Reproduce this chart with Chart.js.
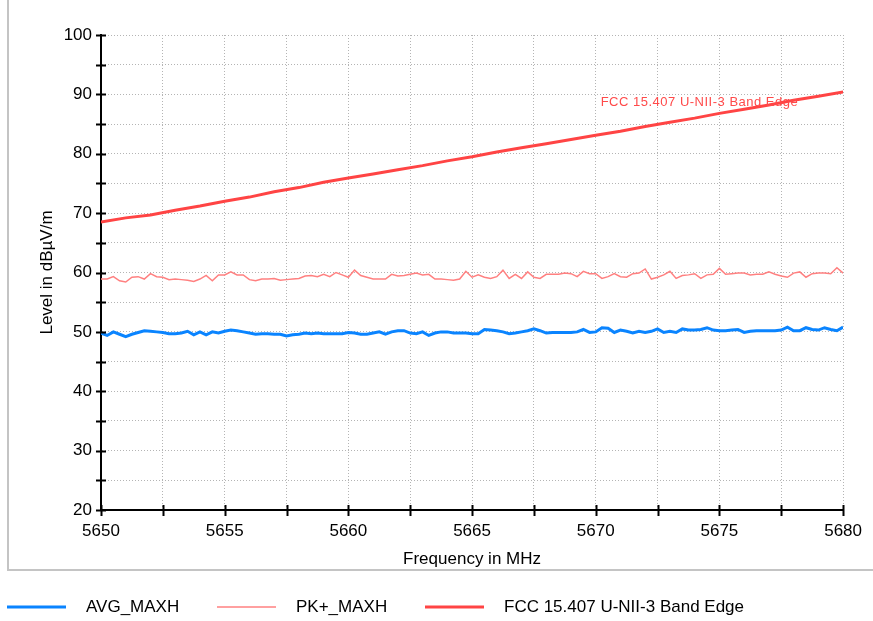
<!DOCTYPE html>
<html>
<head>
<meta charset="utf-8">
<script src="https://cdn.jsdelivr.net/npm/chart.js@4"></script>
<style>
  html, body { margin: 0; padding: 0; background: #fff; }
</style>
</head>
<body>
<canvas id="emiChart" width="873" height="621"></canvas>
<script>
// sweep grid of the two traces (MHz)
const sweepStart = 5650;
const sweepStep = 0.25;

const avgMaxh = [
  49.8, 49.4, 50.0, 49.6, 49.2, 49.6, 49.9, 50.2, 50.1, 50.0, 49.9, 49.7, 49.7, 49.8, 50.1, 49.5, 50.0, 49.5, 50.0, 49.8, 50.1, 50.3, 50.2, 50.0, 49.8,
  49.6, 49.7, 49.7, 49.6, 49.6, 49.3, 49.5, 49.6, 49.8, 49.7, 49.8, 49.7, 49.7, 49.7, 49.7, 49.9, 49.8, 49.6, 49.6, 49.8, 50.0, 49.6, 50.0, 50.2,
  50.2, 49.8, 49.7, 50.0, 49.4, 49.8, 50.0, 50.0, 49.8, 49.8, 49.8, 49.7, 49.7, 50.4, 50.3, 50.2, 50.0, 49.7, 49.8, 50.0, 50.2, 50.5, 50.2, 49.8,
  49.9, 49.9, 49.9, 49.9, 50.0, 50.4, 49.9, 50.0, 50.7, 50.6, 49.9, 50.3, 50.1, 49.8, 50.1, 49.9, 50.1, 50.5, 49.9, 50.1, 49.9, 50.5, 50.3, 50.3,
  50.4, 50.7, 50.3, 50.2, 50.2, 50.3, 50.4, 49.9, 50.1, 50.2, 50.2, 50.2, 50.2, 50.3, 50.8, 50.2, 50.2, 50.7, 50.4, 50.3, 50.7, 50.4, 50.2, 50.8
];

const pkMaxh = [
  58.9, 58.9, 59.3, 58.6, 58.4, 59.2, 59.3, 58.9, 59.8, 59.3, 59.2, 58.8, 58.9, 58.8, 58.7, 58.5, 58.9, 59.5, 58.6, 59.6, 59.6, 60.1, 59.6, 59.6, 58.8,
  58.6, 58.9, 58.9, 59.0, 58.7, 58.8, 58.9, 59.0, 59.4, 59.5, 59.3, 59.7, 59.3, 60.0, 59.6, 59.2, 60.4, 59.5, 59.2, 58.9, 58.9, 58.9, 59.7, 59.4,
  59.5, 59.7, 59.9, 59.6, 59.7, 58.9, 58.9, 58.8, 58.7, 58.9, 60.2, 59.2, 59.6, 59.2, 59.0, 59.3, 60.4, 59.0, 59.7, 59.0, 60.1, 59.2, 59.0, 59.7,
  59.7, 59.7, 59.9, 59.8, 59.3, 60.2, 59.8, 59.8, 59.0, 59.3, 59.8, 59.3, 59.2, 59.8, 59.9, 60.6, 58.9, 59.2, 59.6, 60.2, 59.0, 59.5, 59.6, 59.8,
  59.0, 59.6, 59.7, 60.7, 59.7, 59.8, 59.9, 59.9, 59.6, 59.7, 59.7, 60.1, 59.7, 59.4, 59.2, 59.9, 60.1, 59.2, 59.8, 59.9, 59.9, 59.8, 60.8, 59.9
];

const limitFreqs = [
  5650, 5651, 5652, 5653, 5654, 5655, 5656, 5657, 5658, 5659, 5660, 5661, 5662, 5663, 5664, 5665,
  5666, 5667, 5668, 5669, 5670, 5671, 5672, 5673, 5674, 5675, 5676, 5677, 5678, 5679, 5680
];
const limitLevels = [
  68.5, 69.2, 69.7, 70.5, 71.2, 72.0, 72.7, 73.6, 74.3, 75.2, 75.9, 76.6, 77.3, 78.0, 78.8, 79.5,
  80.3, 81.0, 81.7, 82.4, 83.1, 83.8, 84.6, 85.3, 86.0, 86.8, 87.5, 88.2, 89.0, 89.7, 90.4
];

const xMin = 5650, xMax = 5680, xStep = 2.5, xLabelEvery = 5;
const yMin = 20, yMax = 100, yStep = 5, yLabelEvery = 10;
const limitName = 'FCC 15.407 U-NII-3 Band Edge';

const FONT = 'Liberation Sans, Arial, sans-serif';

function toPoints(freqs, levels) {
  return levels.map((v, i) => ({ x: freqs[i], y: v }));
}
const sweepFreqs = avgMaxh.map((_, i) => sweepStart + i * sweepStep);

// grey frame round the plot, like the receiver software export
const framePlugin = {
  id: 'frame',
  beforeDraw(chart) {
    const ctx = chart.ctx;
    ctx.save();
    ctx.strokeStyle = '#c4c4c4';
    ctx.lineWidth = 2;
    ctx.beginPath();
    ctx.moveTo(8, 0);
    ctx.lineTo(8, 570);
    ctx.lineTo(873, 570);
    ctx.stroke();
    ctx.restore();
  }
};

// tick marks that cross the axis lines
const crossTicksPlugin = {
  id: 'crossTicks',
  afterDraw(chart) {
    const { ctx, chartArea, scales } = chart;
    ctx.save();
    ctx.strokeStyle = '#000';
    ctx.lineWidth = 2;
    ctx.beginPath();
    scales.y.ticks.forEach(t => {
      const py = Math.round(scales.y.getPixelForValue(t.value)) + 0.5;
      ctx.moveTo(chartArea.left - 5, py);
      ctx.lineTo(chartArea.left + 5, py);
    });
    scales.x.ticks.forEach(t => {
      const px = Math.round(scales.x.getPixelForValue(t.value)) + 0.5;
      ctx.moveTo(px, chartArea.bottom - 5);
      ctx.lineTo(px, chartArea.bottom + 6);
    });
    ctx.stroke();
    ctx.restore();
  }
};

// limit line caption
const limitLabelPlugin = {
  id: 'limitLabel',
  afterDatasetsDraw(chart) {
    const { ctx, scales } = chart;
    ctx.save();
    ctx.font = '13px ' + FONT;
    ctx.letterSpacing = '0.5px';
    ctx.fillStyle = '#ff4a4a';
    ctx.textAlign = 'left';
    ctx.textBaseline = 'middle';
    ctx.fillText(limitName, scales.x.getPixelForValue(5670.2), scales.y.getPixelForValue(88.7));
    ctx.restore();
  }
};

// legend row under the frame
const lineLegendPlugin = {
  id: 'lineLegend',
  afterDraw(chart) {
    const ctx = chart.ctx;
    const slots = [7, 217, 425];
    const y = 607;
    ctx.save();
    ctx.font = '17px ' + FONT;
    ctx.textBaseline = 'middle';
    ctx.fillStyle = '#000';
    chart.data.datasets.forEach((ds, i) => {
      const x = slots[i];
      ctx.strokeStyle = ds.borderColor;
      ctx.lineWidth = ds.borderWidth;
      ctx.beginPath();
      ctx.moveTo(x, y);
      ctx.lineTo(x + 59, y);
      ctx.stroke();
      ctx.fillText(ds.label, x + 79, y);
    });
    ctx.restore();
  }
};

const ctx = document.getElementById('emiChart').getContext('2d');
const emiChart = new Chart(ctx, {
  type: 'line',
  data: {
    datasets: [
      {
        label: 'AVG_MAXH',
        data: toPoints(sweepFreqs, avgMaxh),
        borderColor: '#0a84ff',
        borderWidth: 3,
        pointRadius: 0,
        tension: 0
      },
      {
        label: 'PK+_MAXH',
        data: toPoints(sweepFreqs, pkMaxh),
        borderColor: '#ff8080',
        borderWidth: 1.5,
        pointRadius: 0,
        tension: 0
      },
      {
        label: limitName,
        data: toPoints(limitFreqs, limitLevels),
        borderColor: '#ff4444',
        borderWidth: 3,
        pointRadius: 0,
        tension: 0
      }
    ]
  },
  options: {
    responsive: false,
    animation: false,
    layout: { padding: { left: 0, right: 28, top: 35, bottom: 51 } },
    plugins: {
      legend: { display: false },
      tooltip: { enabled: false }
    },
    scales: {
      x: {
        type: 'linear',
        min: xMin,
        max: xMax,
        afterFit(scale) { scale.height = 60; },
        ticks: {
          stepSize: xStep,
          padding: 11,
          color: '#000',
          font: { family: FONT, size: 17 },
          maxRotation: 0,
          callback: v => (v % xLabelEvery === 0 ? v : '')
        },
        grid: { color: '#b4b4b4', lineWidth: 1, drawTicks: false },
        border: { color: '#000', width: 2, dash: [1, 2] },
        title: {
          display: true,
          text: 'Frequency in MHz',
          color: '#000',
          font: { family: FONT, size: 17 },
          padding: { top: 0, bottom: 0 }
        }
      },
      y: {
        min: yMin,
        max: yMax,
        afterFit(scale) { scale.width = 101; },
        ticks: {
          stepSize: yStep,
          padding: 9,
          color: '#000',
          font: { family: FONT, size: 17 },
          callback: v => (v % yLabelEvery === 0 ? v : '')
        },
        grid: { color: '#b4b4b4', lineWidth: 1, drawTicks: false },
        border: { color: '#000', width: 2, dash: [1, 2] },
        title: {
          display: true,
          text: 'Level in dBµV/m',
          color: '#000',
          font: { family: FONT, size: 17 },
          padding: { top: 37, bottom: 0 }
        }
      }
    }
  },
  plugins: [framePlugin, crossTicksPlugin, limitLabelPlugin, lineLegendPlugin]
});
</script>
</body>
</html>
